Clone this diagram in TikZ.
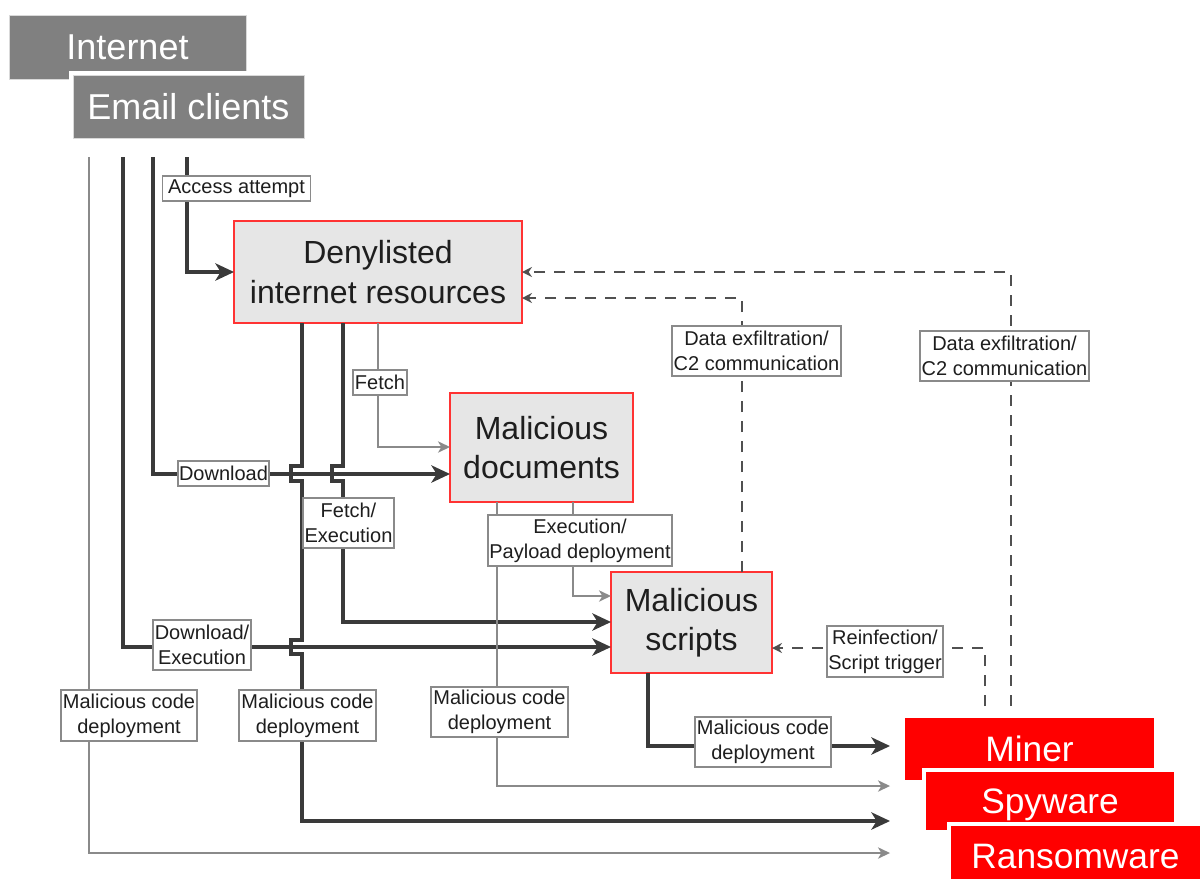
\documentclass[tikz,border=0pt]{standalone}
\usepackage{fontspec}
\setmainfont{Liberation Sans}
\usetikzlibrary{arrows.meta,calc}
\definecolor{hdr}{HTML}{808080}
\definecolor{boxfill}{HTML}{E6E6E6}
\definecolor{boxred}{HTML}{FF3333}
\definecolor{kred}{HTML}{FF0000}
\definecolor{dk}{HTML}{3A3A3A}
\definecolor{lt}{HTML}{8A8A8A}
\definecolor{lblc}{HTML}{8A8A8A}
\definecolor{dsh}{HTML}{505050}
\definecolor{txt}{HTML}{1E1E1E}
\begin{document}
\begin{tikzpicture}[x=0.75pt,y=-0.75pt,
  hdrbox/.style={fill=hdr, draw=gray!30, line width=0.6pt, text=white, inner sep=0pt, outer sep=0pt,
    font=\fontsize{27pt}{30pt}\selectfont, text height=19.3pt, text depth=0pt,
    preaction={draw=white, line width=6.75pt}},
  redbox/.style={fill=kred, text=white, inner sep=0pt, outer sep=0pt,
    font=\fontsize{26.5pt}{30pt}\selectfont, text height=19pt, text depth=0pt,
    preaction={draw=white, line width=6.75pt}},
  mainbox/.style={fill=boxfill, draw=boxred, line width=1pt, text=txt, inner sep=0pt, outer sep=0pt,
    align=center, font=\fontsize{24pt}{29.5pt}\selectfont},
  lbl/.style={fill=white, draw=lblc, line width=1pt, text=txt, inner sep=0pt, outer sep=0pt,
    align=center, font=\fontsize{15pt}{18.75pt}\selectfont},
  thickln/.style={draw=dk, line width=2.3pt, -{Stealth[length=14pt,width=13pt,inset=4pt]}},
  thinln/.style={draw=lt, line width=1.1pt, -{Stealth[length=9pt,width=8.5pt,inset=2.5pt]}},
  dashln/.style={draw=dsh, line width=1.1pt, dash pattern=on 8pt off 7pt, -{Stealth[length=7.5pt,width=7.5pt,inset=2.5pt]}},
]
\useasboundingbox (0,0) rectangle (1201,878);

% header boxes
\node[hdrbox, minimum width=177.75pt, minimum height=48pt] (internet) at (127.5,47) {Internet};
\node[hdrbox, minimum width=173.25pt, minimum height=47.25pt] (email) at (188.5,106.5) {Email clients};

% main boxes
\node[mainbox, minimum width=216pt, minimum height=76.5pt] (deny) at (378,272) {Denylisted\\internet resources};
\node[mainbox, minimum width=137.25pt, minimum height=81.75pt] (docs) at (541.5,447.5) {Malicious\\documents};
\node[mainbox, minimum width=120.75pt, minimum height=75.75pt] (scripts) at (691.5,622.5) {Malicious\\scripts};

% red result boxes
\node[redbox, minimum width=186.75pt, minimum height=46.5pt] (miner) at (1029.5,749) {Miner};
\node[redbox, minimum width=186pt, minimum height=43.5pt] (spy) at (1050,801) {Spyware};
\node[redbox, minimum width=186.75pt, minimum height=45pt] (ransom) at (1075.5,856) {Ransomware};

% free ends
\coordinate (s1) at (89,157);
\coordinate (s2) at (123,157);
\coordinate (s3) at (153,157);
\coordinate (s4) at (187,157);
\coordinate (tipx) at (890,0);
\coordinate (d1) at (1011,706);
\coordinate (d2) at (985,706);

% connectors from sources
\draw[thinln] (s1) |- (tipx |- 0,853);
\draw[thickln] (s2) |- (scripts.west |- 0,647);
\draw[thickln] (s3) |- (docs.west |- 0,474);
\draw[thickln] (s4) |- (deny.west |- 0,272);

% from denylisted resources
\draw[thickln] (deny.south -| 302,0) -- (302,466) -- (291,466) -- (291,481) -- (302,481)
  -- (302,640) -- (291,640) -- (291,654) -- (302,654) |- (tipx |- 0,821);
\draw[thickln] (deny.south -| 343,0) -- (343,466) -- (332,466) -- (332,481) -- (343,481)
  |- (scripts.west |- 0,622);
\draw[thinln] (deny.south -| 378,0) |- (docs.west |- 0,447);

% from malicious documents
\draw[thinln] (docs.south -| 497,0) |- (tipx |- 0,786);
\draw[thinln] (docs.south -| 573,0) |- (scripts.west |- 0,596);

% from malicious scripts
\draw[thickln] (scripts.south -| 648,0) |- (tipx |- 0,746);

% dashed feedback
\draw[dashln] (scripts.north -| 742,0) |- (deny.east |- 0,298);
\draw[dashln] (d1) |- (deny.east |- 0,272);
\draw[dashln] (d2) |- (scripts.east |- 0,648);

% labels
\node[lbl, minimum width=111pt, minimum height=18.75pt] (lacc) at (236.5,188.5) {Access attempt};
\node[lbl, minimum width=68.25pt, minimum height=18.75pt] (ldl) at (223.5,473.5) {Download};
\node[lbl, minimum width=40.5pt, minimum height=18.75pt] (lfetch) at (380,382.5) {Fetch};
\node[lbl, minimum width=68.25pt, minimum height=37.5pt] (lfexec) at (348.5,523) {Fetch/\\Execution};
\node[lbl, minimum width=138pt, minimum height=38.25pt] (lepd) at (580,540.5) {Execution/\\Payload deployment};
\node[lbl, minimum width=126.75pt, minimum height=37.5pt] (ldx1) at (756.5,351) {Data exfiltration/\\C2 communication};
\node[lbl, minimum width=126.75pt, minimum height=37.5pt] (ldx2) at (1004.5,356) {Data exfiltration/\\C2 communication};
\node[lbl, minimum width=87pt, minimum height=38.25pt] (lreinf) at (885,651.5) {Reinfection/\\Script trigger};
\node[lbl, minimum width=73.5pt, minimum height=37.5pt] (ldlex) at (202,645) {Download/\\Execution};
\node[lbl, minimum width=102pt, minimum height=38.25pt] (lmcd1) at (129,715.5) {Malicious code\\deployment};
\node[lbl, minimum width=102.75pt, minimum height=38.25pt] (lmcd2) at (307.5,715.5) {Malicious code\\deployment};
\node[lbl, minimum width=102.75pt, minimum height=37.5pt] (lmcd3) at (499.5,712) {Malicious code\\deployment};
\node[lbl, minimum width=102pt, minimum height=37.5pt] (lmcd4) at (763,742) {Malicious code\\deployment};
\end{tikzpicture}
\end{document}
